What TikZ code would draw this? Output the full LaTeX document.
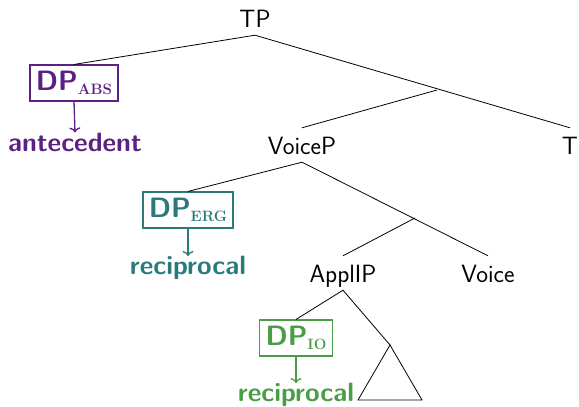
\documentclass[tikz,border=0pt]{standalone}
\usepackage{fontspec}
\usetikzlibrary{arrows.meta}
\definecolor{abscol}{HTML}{5C1F82}
\definecolor{ergcol}{HTML}{2A7A7C}
\definecolor{iocol}{HTML}{4A9C46}
\newcommand{\casesub}[1]{\raisebox{-4pt}{\fontsize{15}{15}\selectfont\rmfamily\bfseries #1}}
\begin{document}
\begin{tikzpicture}[x=1pt,y=-1pt,
  every node/.style={font=\fontsize{25}{30}\selectfont\sffamily},
  cat/.style={anchor=base,text height=18pt,text depth=0pt,inner xsep=0pt,inner ysep=8pt},
  branch/.style={line width=0.8pt,black},
  dpbox/.style={draw,line width=1.5pt,inner xsep=6pt,inner ysep=6pt,
    font=\fontsize{28}{30}\selectfont\sffamily\bfseries},
  role/.style={font=\fontsize{26.5}{30}\selectfont\sffamily\bfseries,inner sep=0pt},
  link/.style={line width=1.3pt,-{To[length=5pt,width=11pt]}}]
\useasboundingbox (0,0) rectangle (579,407);

% category labels
\node[cat] (TP) at (255,27) {TP};
\node[cat] (VoiceP) at (302,154) {VoiceP};
\node[cat] (T) at (570,154) {T};
\node[cat] (ApplIP) at (343,282) {ApplIP};
\node[cat] (Voice) at (488,282) {Voice};

% intermediate branching points
\coordinate (tbar) at (437,90);
\coordinate (voicebar) at (415,218);

% case-marked DPs
\node[dpbox,abscol] (abs) at (74,83) {DP\casesub{ABS}};
\node[dpbox,ergcol] (erg) at (188,210) {DP\casesub{ERG}};
\node[dpbox,iocol] (io) at (296,338) {DP\casesub{IO}};

\node[role,abscol] (ante) at (75,142) {antecedent};
\node[role,ergcol] (recerg) at (188,268) {reciprocal};
\node[role,iocol] (recio) at (296,395) {reciprocal};

\draw[link,abscol] (abs.south) -- (ante.north);
\draw[link,ergcol] (erg.south) -- (recerg.north);
\draw[link,iocol] (io.south) -- (recio.north);

% tree branches
\draw[branch] (abs.north) -- (TP.south) -- (T.north);
\draw[branch] (tbar) -- (VoiceP.north);
\draw[branch] (erg.north) -- (VoiceP.south) -- (Voice.north);
\draw[branch] (voicebar) -- (ApplIP.north);
\coordinate (apex) at (390,345);
\coordinate (baseL) at (358,400);
\coordinate (baseR) at (422,400);
\draw[branch] (io.north) -- (ApplIP.south) -- (apex);
\draw[branch] (apex) -- (baseL) -- (baseR) -- cycle;
\end{tikzpicture}
\end{document}
